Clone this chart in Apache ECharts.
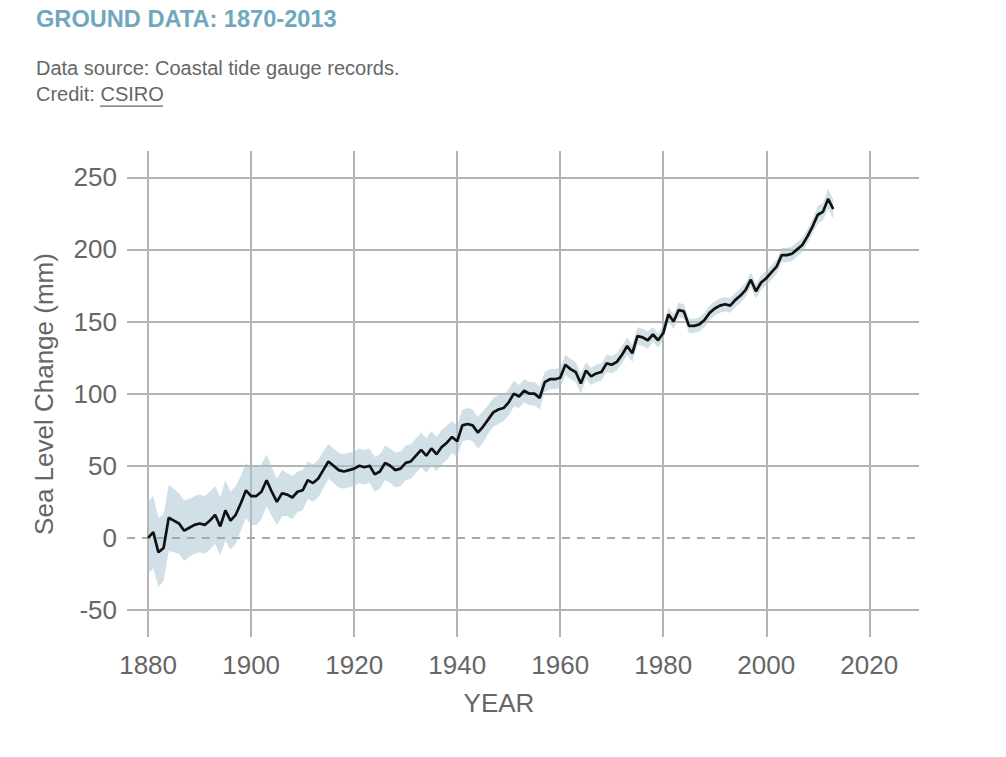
<!DOCTYPE html>
<html>
<head>
<meta charset="utf-8">
<script src="https://cdn.jsdelivr.net/npm/echarts@6/dist/echarts.min.js"></script>
<style>
html,body{margin:0;padding:0;background:#fff;}
#chart{width:1006px;height:757px;}
</style>
</head>
<body>
<div id="chart"></div>
<script>
// ---- data ----
const startYear = 1880;
const seaLevel = [
  0, 4, -10, -7, 14, 12, 10, 5, 7, 9,
  10, 9, 12, 16, 8, 19, 12, 16, 24, 33,
  29, 29, 32, 40, 32, 25, 31, 30, 28, 32,
  33, 40, 38, 41, 47, 53, 50, 47, 46, 47,
  48, 50, 49, 50, 44, 46, 52, 50, 47, 48,
  52, 53, 57, 61, 57, 62, 58, 63, 66, 70,
  67, 78, 79, 78, 73, 77, 82, 87, 89, 90,
  94, 100, 98, 102, 100, 100, 97, 108, 110, 110,
  111, 120, 117, 115, 107, 116, 112, 114, 115, 121,
  120, 122, 127, 133, 128, 140, 139, 137, 141, 137,
  142, 155, 150, 158, 157, 147, 147, 148, 151, 156,
  159, 161, 162, 161, 165, 168, 172, 179, 171, 177,
  180, 184, 188, 196, 196, 197, 200, 203, 209, 216,
  224, 226, 235, 228
];
const uncertainty = [
  25, 25, 24, 23, 23, 22, 21, 21, 20, 20,
  20, 20, 20, 20, 20, 21, 20, 20, 19, 19,
  20, 20, 19, 18, 17, 16, 16, 15, 15, 14,
  14, 13, 13, 13, 13, 12, 12, 12, 12, 12,
  12, 12, 12, 12, 12, 12, 12, 12, 12, 12,
  12, 12, 12, 12, 12, 12, 12, 12, 12, 11,
  11, 11, 11, 11, 11, 11, 10, 10, 10, 9,
  9, 9, 8, 8, 8, 8, 8, 7, 7, 7,
  7, 7, 7, 7, 7, 6, 6, 6, 6, 6,
  6, 6, 6, 6, 6, 6, 6, 6, 5, 5,
  5, 5, 5, 5, 5, 5, 5, 5, 5, 5,
  5, 5, 5, 5, 5, 5, 5, 5, 5, 5,
  5, 5, 5, 5, 5, 5, 5, 5, 5, 5,
  6, 6, 7, 7
];
const xTickLabels = [1880, 1900, 1920, 1940, 1960, 1980, 2000, 2020];
const yTickLabels = [-50, 0, 50, 100, 150, 200, 250];
const yGridLines = [-50, 50, 100, 150, 200, 250];

// ---- build ----
const years = seaLevel.map((v, i) => startYear + i);
const linePairs = seaLevel.map((v, i) => [years[i], v]);
const upper = seaLevel.map((v, i) => v + uncertainty[i]);
const lower = seaLevel.map((v, i) => v - uncertainty[i]);

const FONT = 'Liberation Sans, Arial, sans-serif';
const GRID_COLOR = '#b4b4b4';
const TEXT_COLOR = '#666666';

const chart = echarts.init(document.getElementById('chart'), null, {renderer: 'svg'});

const option = {
  backgroundColor: '#ffffff',
  animation: false,
  title: [
    {
      text: 'GROUND DATA: 1870-2013',
      left: 36, top: 7, padding: 0,
      textStyle: {fontFamily: FONT, fontSize: 23.6, fontWeight: 'bold', color: '#6fa8bd'}
    },
    {
      text: 'Data source: Coastal tide gauge records.',
      left: 36, top: 58, padding: 0,
      textStyle: {fontFamily: FONT, fontSize: 20, fontWeight: 'normal', color: TEXT_COLOR}
    },
    {
      text: 'Credit: CSIRO',
      left: 36, top: 84, padding: 0,
      textStyle: {fontFamily: FONT, fontSize: 20, fontWeight: 'normal', color: TEXT_COLOR}
    }
  ],
  graphic: [
    {type: 'rect', shape: {x: 100, y: 105.5, width: 63, height: 1.2}, style: {fill: TEXT_COLOR}, silent: true}
  ],
  grid: {left: 127, right: 87, top: 151, bottom: 120, containLabel: false},
  xAxis: {
    type: 'value',
    min: 1875.9,
    max: 2029.65,
    axisLine: {show: false},
    axisTick: {show: false, customValues: xTickLabels},
    axisLabel: {
      customValues: xTickLabels,
      formatter: function (v) { return String(v); },
      fontFamily: FONT, fontSize: 26, color: TEXT_COLOR, margin: 15
    },
    splitLine: {show: true, lineStyle: {color: GRID_COLOR, width: 2}},
    name: 'YEAR',
    nameLocation: 'middle',
    nameGap: 53,
    nameTextStyle: {fontFamily: FONT, fontSize: 26, color: TEXT_COLOR, padding: [0, 48, 0, 0]}
  },
  yAxis: {
    type: 'value',
    min: -68.7,
    max: 268.2,
    axisLine: {show: false},
    axisTick: {show: false, customValues: yGridLines},
    axisLabel: {
      customValues: yTickLabels,
      formatter: function (v) { return String(v); },
      fontFamily: FONT, fontSize: 26, color: TEXT_COLOR, margin: 10
    },
    splitLine: {show: true, lineStyle: {color: GRID_COLOR, width: 2}},
    name: 'Sea Level Change (mm)',
    nameLocation: 'middle',
    nameRotate: 90,
    nameGap: 70,
    nameTextStyle: {fontFamily: FONT, fontSize: 26, color: TEXT_COLOR}
  },
  series: [
    {
      type: 'custom',
      name: 'Uncertainty',
      silent: true,
      data: [[years[0], seaLevel[0]]],
      renderItem: function (params, api) {
        if (params.dataIndex !== 0) return;
        const pts = [];
        for (let i = 0; i < years.length; i++) pts.push(api.coord([years[i], upper[i]]));
        for (let i = years.length - 1; i >= 0; i--) pts.push(api.coord([years[i], lower[i]]));
        return {
          type: 'polygon',
          shape: {points: pts},
          style: {fill: 'rgba(171,199,212,0.55)'}
        };
      },
      z: 2
    },
    {
      type: 'line',
      name: 'Sea level',
      data: linePairs,
      symbol: 'none',
      lineStyle: {color: '#111111', width: 2.7},
      z: 4,
      markLine: {
        silent: true,
        symbol: 'none',
        label: {show: false},
        lineStyle: {color: '#aaaaaa', type: [8, 7], width: 2},
        data: [{yAxis: 0}],
        z: 3
      }
    }
  ]
};
chart.setOption(option);
</script>
</body>
</html>
